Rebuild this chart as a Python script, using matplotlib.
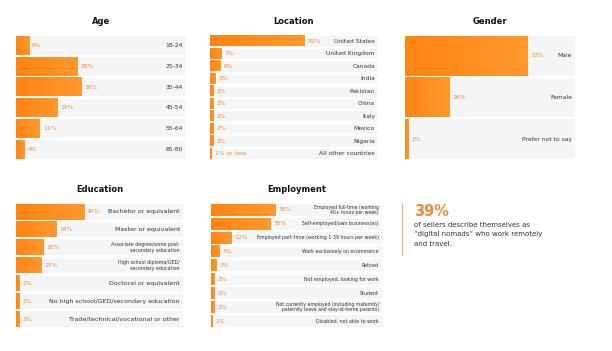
import numpy as np
import matplotlib.pyplot as plt
from matplotlib.colors import LinearSegmentedColormap

plt.rcParams['font.family'] = ['DejaVu Sans']

W, H = 612, 351

# data
age_labels = ["18-24", "25-34", "35-44", "45-54", "55-64", "65-80"]
age_values = [6, 28, 30, 19, 11, 4]

loc_labels = ["United States", "United Kingdom", "Canada", "India", "Pakistan",
              "China", "Italy", "Mexico", "Nigeria", "All other countries"]
loc_values = [55, 7, 6, 3, 2, 2, 2, 2, 2, 1]
loc_text = ["55%", "7%", "6%", "3%", "2%", "2%", "2%", "2%", "2%", "1% or less"]

gender_labels = ["Male", "Female", "Prefer not to say"]
gender_values = [72, 26, 2]

edu_labels = ["Bachelor or equivalent", "Master or equivalent",
              "Associate degree/some post-\nsecondary education",
              "High school diploma/GED/\nsecondary education",
              "Doctoral or equivalent",
              "No high school/GED/secondary education",
              "Trade/technical/vocational or other"]
edu_values = [40, 24, 16, 15, 2, 2, 2]

emp_labels = ["Employed full-time (working\n40+ hours per week)",
              "Self-employed/own business(es)",
              "Employed part-time (working 1-39 hours per week)",
              "Work exclusively on ecommerce",
              "Retired",
              "Not employed, looking for work",
              "Student",
              "Not currently employed (including maternity/\npaternity leave and stay-at-home parents)",
              "Disabled, not able to work"]
emp_values = [38, 35, 12, 5, 3, 2, 2, 2, 1]

ORANGE_TXT = "#EE8A35"
grad = LinearSegmentedColormap.from_list("g", ["#FF8412", "#FF982C"])

fig = plt.figure(figsize=(W / 100, H / 100), dpi=100)


def px_axes(x0, y0, w, h):
    return fig.add_axes([x0 / W, 1 - (y0 + h) / H, w / W, h / H])


def panel(x0, y0, w, h, xmax, title, labels, values, texts=None,
          fs=4.3, small=3.4, barh=0.88):
    ax = px_axes(x0, y0, w, h)
    n = len(values)
    ax.set_xlim(0, xmax)
    ax.set_ylim(n - 0.5, -0.5)
    ax.axis('off')
    px_per = w / xmax
    gradimg = np.linspace(0, 1, 64).reshape(1, -1)
    for i, (lab, v) in enumerate(zip(labels, values)):
        ax.barh(i, xmax, height=barh, color="#F4F5F7", zorder=1)
        ax.imshow(gradimg, cmap=grad, aspect='auto', zorder=2,
                  extent=[0, v, i + barh / 2, i - barh / 2])
        t = texts[i] if texts else f"{v}%"
        ax.text(v + 3 / px_per, i, t, color=ORANGE_TXT, fontsize=4.3,
                va='center', ha='left', zorder=3)
        ax.text(xmax - 3 / px_per, i, lab, color="#333333",
                fontsize=small if "\n" in lab else fs,
                va='center', ha='right', zorder=3, linespacing=1.1)
    ax.text(0.5, 1 + 14 / h, title, transform=ax.transAxes, ha='center',
            va='center', fontsize=6, fontweight='bold', color="#111111")
    return ax


panel(16, 35, 170, 125, 78, "Age", age_labels, age_values, barh=0.9)
panel(210, 35, 168, 125, 98, "Location", loc_labels, loc_values, loc_text, barh=0.84)
panel(405, 35, 170, 125, 100, "Gender", gender_labels, gender_values, barh=0.95)
panel(16, 203, 167, 125, 98, "Education", edu_labels, edu_values,
      fs=4.5, small=3.4, barh=0.86)
panel(211, 203, 171, 125, 100, "Employment", emp_labels, emp_values,
      fs=3.4, small=3.3, barh=0.84)

# callout
fig.add_artist(plt.Line2D([402 / W, 402 / W], [1 - 203 / H, 1 - 255 / H],
                          color="#F6B27A", lw=0.8))
fig.text(414 / W, 1 - 212 / H, "39%", color="#F08A32", fontsize=10.5,
         fontweight='bold', va='center', ha='left')
fig.text(414 / W, 1 - 222 / H,
         "of sellers describe themselves as\n\u201cdigital nomads\u201d who work remotely\nand travel.",
         color="#333333", fontsize=5, va='top', ha='left', linespacing=1.65)

fig.savefig("out.png", dpi=100, facecolor="white")
